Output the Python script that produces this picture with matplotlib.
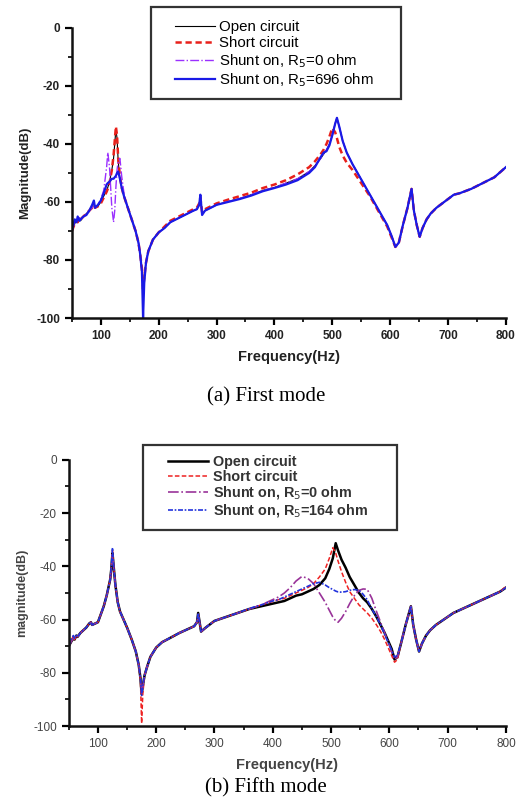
import matplotlib
matplotlib.use('Agg')
import matplotlib.pyplot as plt
from matplotlib.patches import Rectangle
from matplotlib.ticker import MultipleLocator

# (a) first mode: frequency grid and measured magnitudes (dB)
freq_a = [50, 55, 58, 60, 63, 65, 70, 75, 80, 85,
          88, 90, 95, 100, 105, 110, 112, 115, 119, 122,
          124, 126, 128, 130, 133, 136, 140, 145, 150, 155,
          160, 165, 168, 171, 173, 175, 178, 182, 190, 200,
          210, 220, 230, 240, 250, 260, 266, 270, 272, 275,
          280, 290, 300, 320, 340, 360, 380, 400, 420, 440,
          460, 470, 480, 485, 490, 495, 500, 505, 508, 512,
          518, 525, 535, 545, 555, 565, 575, 585, 595, 603,
          609, 615, 622, 630, 637, 641, 646, 651, 656, 663,
          670, 680, 690, 700, 710, 720, 740, 760, 780, 800]

open_a = [-70, -67.5, -66, -67, -65.5, -66.5, -65, -64, -63, -62,
          -60, -62, -61.5, -60, -58, -56, -55, -53, -49, -45,
          -40, -35, -38, -46, -52, -55, -58, -61, -64, -67,
          -70, -74, -78, -84, -88, -85, -81, -77, -73, -70.5,
          -69, -67, -66, -65, -64, -63, -62.5, -61, -58, -64,
          -63, -62, -61, -59.8, -58.8, -57.5, -56, -55, -53.5, -52,
          -49.5, -47.5, -45, -43.5, -42, -40, -37, -33, -31, -34,
          -39, -43, -47, -50.5, -54, -57.5, -61, -64.5, -68, -72,
          -75.5, -74, -68, -62, -55.5, -63, -68, -72, -69, -66,
          -64, -62, -60.5, -59, -57.5, -57, -55.5, -53.5, -51.5, -48]

short_a = [-70, -67.5, -66.5, -67, -65.5, -66, -65, -64, -63, -62,
           -61, -62, -61.5, -60.5, -58.5, -56.5, -55.5, -53.5, -49, -44,
           -39, -34, -37, -45, -51, -55, -58, -61, -64, -67,
           -70, -74, -78, -83, -90, -86, -81, -77, -73, -70.5,
           -68.5, -66.5, -65.5, -64.5, -63.5, -62.5, -62, -60.5, -58.5, -63.5,
           -62.5, -61.5, -60.5, -59.2, -58, -56.8, -55.2, -54, -52.5, -50.5,
           -48, -46, -43.5, -42, -40, -37.5, -34.5, -36, -38, -41,
           -44, -46.5, -49, -52, -55, -58, -61.5, -65, -68.5, -72.5,
           -75.5, -74, -68, -62, -55.5, -63, -68, -72, -69, -66,
           -64, -62, -60.5, -59, -57.5, -57, -55.5, -53.5, -51.5, -48]

shunt0_a = [-70, -67, -66, -66.5, -65.5, -66, -65, -64, -63, -62,
            -60.5, -62, -61, -59, -56, -48, -43, -48, -62, -67,
            -63, -55, -49, -46, -45, -51, -57, -61, -64, -67,
            -70, -74, -78, -84, -90, -86, -81, -77, -73, -70.5,
            -69, -67, -66, -65, -64, -63, -62.5, -61, -58, -64,
            -63, -62, -61, -59.8, -58.8, -57.5, -56, -55, -53.5, -52,
            -49.5, -47.5, -45, -43.5, -42, -40, -37, -33, -31, -34,
            -39, -43, -47, -50.5, -54, -57.5, -61, -64.5, -68, -72,
            -75.5, -74, -68, -62, -55.5, -63, -68, -72, -69, -66,
            -64, -62, -60.5, -59, -57.5, -57, -55.5, -53.5, -51.5, -48]

shunt696_a = [-70, -66, -67, -65, -66.5, -66, -65, -64.5, -63, -61,
              -59.5, -62, -61, -59.5, -57, -54, -53.5, -53, -52, -52,
              -51.5, -51, -50, -49.5, -52, -55, -58, -61, -64, -67,
              -70, -74, -78, -84, -100, -88, -81, -77, -73, -70.5,
              -69, -67, -66, -65, -64, -63, -62.5, -61, -57.5, -64.5,
              -63, -62, -61, -60, -59, -57.8, -56.3, -55.2, -54, -52.5,
              -50, -48, -44.5, -43, -42.5, -40.5, -37, -33, -31, -34,
              -39, -43, -47, -50.5, -54, -57.5, -61, -64.5, -68, -72,
              -75.5, -74, -68, -62, -55.5, -63, -68, -72, -69, -66,
              -64, -62, -60.5, -59, -57.5, -57, -55.5, -53.5, -51.5, -48]

# (b) fifth mode
freq_b = [50, 55, 58, 60, 63, 65, 70, 75, 80, 85,
          88, 90, 95, 100, 105, 110, 115, 118, 121, 123,
          125, 127, 130, 134, 138, 143, 150, 158, 165, 170,
          173, 175, 177, 180, 184, 190, 200, 210, 223, 240,
          255, 265, 270, 272, 277, 285, 300, 320, 340, 360,
          380, 400, 410, 420, 430, 440, 450, 460, 470, 480,
          490, 497, 503, 508, 512, 518, 525, 532, 540, 548,
          555, 562, 570, 578, 585, 592, 598, 604, 609, 614,
          620, 628, 637, 641, 646, 651, 656, 663, 670, 680,
          690, 700, 710, 720, 735, 750, 765, 780, 790, 800]

open_b = [-70, -68, -67, -67.5, -66, -66.5, -65, -64, -63, -61.5,
          -61, -62, -61.5, -61, -58, -55, -51, -48, -45, -41,
          -35, -40, -47, -53.5, -57, -59.5, -63, -67.5, -72, -77,
          -82, -88, -85, -81, -78, -74, -70.5, -68.5, -67, -65,
          -63.5, -62.5, -61, -57.5, -64.5, -63, -60.5, -59, -57.5, -56,
          -55, -54, -53.5, -53, -52, -51, -50.5, -49.5, -48.5, -47,
          -44.5, -41, -37, -31.3, -34, -37.5, -40.5, -44, -47, -50,
          -52, -53.5, -56, -59, -62, -65, -68, -71, -75, -74,
          -69, -62, -55, -62, -67.5, -72, -69, -66, -64, -62,
          -60.5, -59, -57.5, -56.5, -55, -53.5, -52, -50.5, -49.5, -48]

short_b = [-70, -67.5, -66, -67.5, -66, -66.5, -65, -64, -63, -61.5,
           -61, -62, -61.5, -61, -58, -55, -51, -48, -45, -41,
           -34, -40, -47, -53.5, -57, -59.5, -63, -67.5, -72, -77,
           -83, -99, -88, -81, -78, -74, -70.5, -68.5, -67, -65,
           -63.5, -62.5, -61, -58, -64.5, -63, -60.5, -59, -57.5, -56,
           -54.5, -53.2, -52.5, -52, -51, -50, -49, -48, -46.5, -44,
           -41, -37, -33, -35, -38, -42, -46, -49.5, -52, -54.5,
           -56, -57.5, -59.5, -62, -64.5, -67.5, -70.5, -73.5, -76, -75,
           -69, -62, -55, -62, -67.5, -72, -69, -66, -64, -62,
           -60.5, -59, -57.5, -56.5, -55, -53.5, -52, -50.5, -49.5, -47.5]

shunt0_b = [-70, -68, -67, -67.5, -66, -66.5, -65, -64, -63, -61.5,
            -61, -62, -61.5, -61, -58, -55, -51, -48, -45, -41,
            -35, -40, -47, -53.5, -57, -59.5, -63, -67.5, -72, -77,
            -82, -88, -85, -81, -78, -74, -70.5, -68.5, -67, -65,
            -63.5, -62.5, -61, -57.5, -64.5, -63, -60.5, -59, -57.5, -56,
            -54.5, -52.5, -51.5, -50, -48, -45.5, -43.8, -44.5, -46.5, -50,
            -53.5, -56.5, -59, -60.5, -61, -59.5, -57, -54, -51, -49,
            -48.5, -48.6, -52, -57, -61, -65, -68.5, -72, -75, -74,
            -69, -62, -55, -62, -67.5, -72, -69, -66, -64, -62,
            -60.5, -59, -57.5, -56.5, -55, -53.5, -52, -50.5, -49.5, -48]

shunt164_b = [-70, -67, -66, -67, -66, -66.5, -65, -64, -63, -61.5,
              -61, -62, -61.5, -61, -58, -55, -51, -48, -45, -40,
              -33, -40, -47, -53.5, -57, -59.5, -63, -67.5, -72, -77,
              -82, -88.5, -85, -81, -78, -74, -70.5, -68.5, -67, -65,
              -63.5, -62.5, -61, -57.5, -64.5, -63, -60.5, -59, -57.5, -55.8,
              -54.5, -53, -52.5, -51.5, -50.5, -49.5, -48.5, -47.5, -46.5, -46,
              -47, -48, -48.7, -49.3, -49.6, -49.7, -49.5, -49, -48.7, -49,
              -50.5, -52.5, -56, -59, -62, -65.5, -68.5, -71.5, -74, -73.5,
              -69, -62, -55, -62, -67.5, -72, -69, -66, -64, -62,
              -60.5, -59, -57.5, -56.5, -55, -53.5, -52, -50.5, -49.5, -48]

yticks = [0, -20, -40, -60, -80, -100]
xticks = [100, 200, 300, 400, 500, 600, 700, 800]

plt.rcParams['font.family'] = ['Liberation Sans', 'DejaVu Sans']
plt.rcParams['axes.unicode_minus'] = False

W, H = 521, 797
fig = plt.figure(figsize=(W / 100, H / 100), dpi=100)
ax1 = fig.add_axes([0.138, 0.601, 0.833, 0.364])
ax2 = fig.add_axes([0.132, 0.089, 0.839, 0.334])


def style_axis(ax, ylabel, bold, tick_color, ylabel_size):
    ax.set_xlim(50, 800)
    ax.set_ylim(-100, 0)
    ax.set_xticks(xticks)
    ax.set_yticks(yticks)
    ax.xaxis.set_minor_locator(MultipleLocator(50))
    ax.yaxis.set_minor_locator(MultipleLocator(10))
    for side in ('top', 'right'):
        ax.spines[side].set_visible(False)
    for side in ('left', 'bottom'):
        ax.spines[side].set_linewidth(1.8)
        ax.spines[side].set_color('#111111')
    ax.tick_params(which='major', direction='out', length=5, width=1.6,
                   labelsize=8.5, labelcolor=tick_color)
    ax.tick_params(which='minor', direction='out', length=3, width=1.2)
    weight = 'bold' if bold else 'normal'
    for lab in ax.get_xticklabels() + ax.get_yticklabels():
        lab.set_fontweight(weight)
    ax.set_xlabel('Frequency(Hz)', fontsize=10.5, fontweight='bold',
                  color=tick_color, labelpad=6)
    ax.set_ylabel(ylabel, fontsize=ylabel_size, fontweight='bold',
                  color=tick_color, labelpad=4)


def boxed_legend(ax, box_px, anchor_px, fontsize, spacing, handle_len):
    # figure-level legend without its own frame; the box is drawn in pixels
    x0, y0, x1, y1 = box_px
    fig.patches.append(Rectangle((x0 / W, 1 - y1 / H), (x1 - x0) / W,
                                 (y1 - y0) / H, transform=fig.transFigure,
                                 facecolor='white', edgecolor='#333333',
                                 linewidth=1.6, zorder=5))
    handles, labels = ax.get_legend_handles_labels()
    leg = fig.legend(handles, labels, loc='upper left',
                     bbox_to_anchor=(anchor_px[0] / W, 1 - anchor_px[1] / H),
                     bbox_transform=fig.transFigure, borderaxespad=0,
                     borderpad=0, frameon=False, fontsize=fontsize,
                     handlelength=handle_len, handletextpad=0.3,
                     labelspacing=spacing)
    leg.set_zorder(6)
    return leg


# first mode
ax1.plot(freq_a, open_a, color='black', lw=0.8, label='Open circuit')
ax1.plot(freq_a, short_a, color='#e8201a', lw=1.8, ls=(0, (2.5, 1.5)),
         label='Short circuit')
ax1.plot(freq_a, shunt0_a, color='#9b30ff', lw=1.0, ls='-.',
         label='Shunt on, R$_5$=0 ohm')
ax1.plot(freq_a, shunt696_a, color='#1a1ae6', lw=1.6,
         label='Shunt on, R$_5$=696 ohm')
style_axis(ax1, 'Magnitude(dB)', True, '#222222', 9.5)
boxed_legend(ax1, (151, 7, 401, 99), (175, 20), 10.8, 0.13, 2.65)

# fifth mode
ax2.plot(freq_b, open_b, color='black', lw=1.8, label='Open circuit')
ax2.plot(freq_b, short_b, color='#ee2222', lw=1.1, ls=(0, (3, 1.5)),
         label='Short circuit')
ax2.plot(freq_b, shunt0_b, color='#993399', lw=1.2, ls='-.',
         label='Shunt on, R$_5$=0 ohm')
ax2.plot(freq_b, shunt164_b, color='#2233dd', lw=1.2, ls=(0, (3, 1, 1, 1)),
         label='Shunt on, R$_5$=164 ohm')
style_axis(ax2, 'magnitude(dB)', False, '#444444', 9)
leg2 = boxed_legend(ax2, (143, 445, 397, 530), (168, 455), 10.4, 0.05, 2.8)
for txt in leg2.get_texts():
    txt.set_fontweight('bold')
    txt.set_color('#333333')

fig.text(0.51, 0.502, '(a) First mode', ha='center', va='center',
         fontsize=15, family='Liberation Serif')
fig.text(0.51, 0.012, '(b) Fifth mode', ha='center', va='center',
         fontsize=15, family='Liberation Serif')

fig.savefig('out.png', dpi=100)
